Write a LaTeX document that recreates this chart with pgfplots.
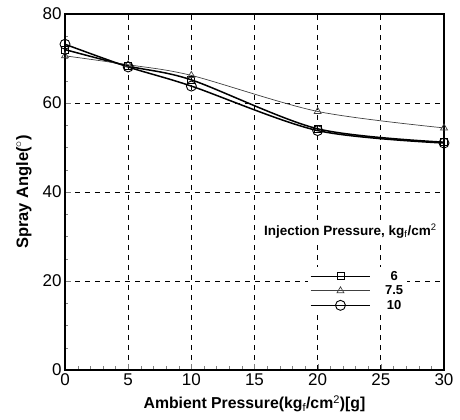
\documentclass[border=0pt]{standalone}
\usepackage{pgfplots}
\pgfplotsset{compat=1.18}
\usepackage{fontspec}
\setmainfont{Liberation Sans}
\begin{document}
\begin{tikzpicture}
\begin{axis}[
  name=ax,
  scale only axis,
  width=379pt, height=356pt,
  xmin=0, xmax=30, ymin=0, ymax=80,
  xtick={0,5,...,30}, ytick={0,20,...,80},
  minor x tick num=4, minor y tick num=3,
  tick align=inside,
  xtick pos=bottom, ytick pos=left,
  major tick length=6pt, minor tick length=3.5pt,
  axis line style={line width=1.4pt},
  grid=major,
  major grid style={dashed, black, line width=0.7pt, dash pattern=on 5pt off 5pt},
  tick label style={font=\fontsize{17}{19}\selectfont},
  /pgf/number format/assume math mode=true,
  xlabel={\textbf{Ambient Pressure(kg$_{\mathrm f}$/cm$^{\mathrm 2}$)[g]}},
  ylabel={\textbf{Spray Angle($^\circ$)}},
  xlabel style={font=\fontsize{15.8}{18}\selectfont, yshift=-3pt},
  ylabel style={font=\fontsize{16.5}{18}\selectfont, yshift=4pt},
  legend style={draw=none, fill=white, at={(axis cs:27.1,12.4)}, anchor=south east,
     font=\bfseries\fontsize{13}{15}\selectfont, row sep=0pt, inner sep=2pt,
     /tikz/every odd column/.append style={column sep=12pt}},
  legend cell align=center,
  legend image code/.code={\draw[mark repeat=2,mark phase=2,#1] plot coordinates {(0cm,0cm)(1.05cm,0cm)(2.1cm,0cm)};},
]
\addplot[black, line width=1.5pt, smooth, mark=square, mark size=3.5pt, mark options={fill=white, line width=0.8pt, solid}]
 coordinates {(0,72) (5,68.3) (10,65.2) (20,54.2) (30,51.2)};
\addlegendentry{6}
\addplot[black!75, line width=0.7pt, smooth, mark=triangle, mark size=4pt, mark options={fill=white, line width=0.7pt, solid}]
 coordinates {(0,70.6) (5,68.6) (10,66.2) (20,58.1) (30,54.4)};
\addlegendentry{7.5}
\addplot[black, line width=1.5pt, smooth, mark=o, mark size=5pt, mark options={line width=0.9pt, solid}]
 coordinates {(0,73.2) (5,68.1) (10,63.8) (20,53.8) (30,51.0)};
\addlegendentry{10}
\node[anchor=east, font=\bfseries\fontsize{13.5}{15}\selectfont, fill=white, inner sep=1.5pt] at (axis cs:29.55,31.2) {Injection Pressure, kg$_{\mathrm f}$/cm$^{\mathrm 2}$};
\end{axis}
\path (ax.south west) ++(-65pt,-50pt) coordinate (bl);
\path (ax.north east) ++(16pt,14pt) coordinate (tr);
\path (bl) rectangle (tr);
\end{tikzpicture}
\end{document}
